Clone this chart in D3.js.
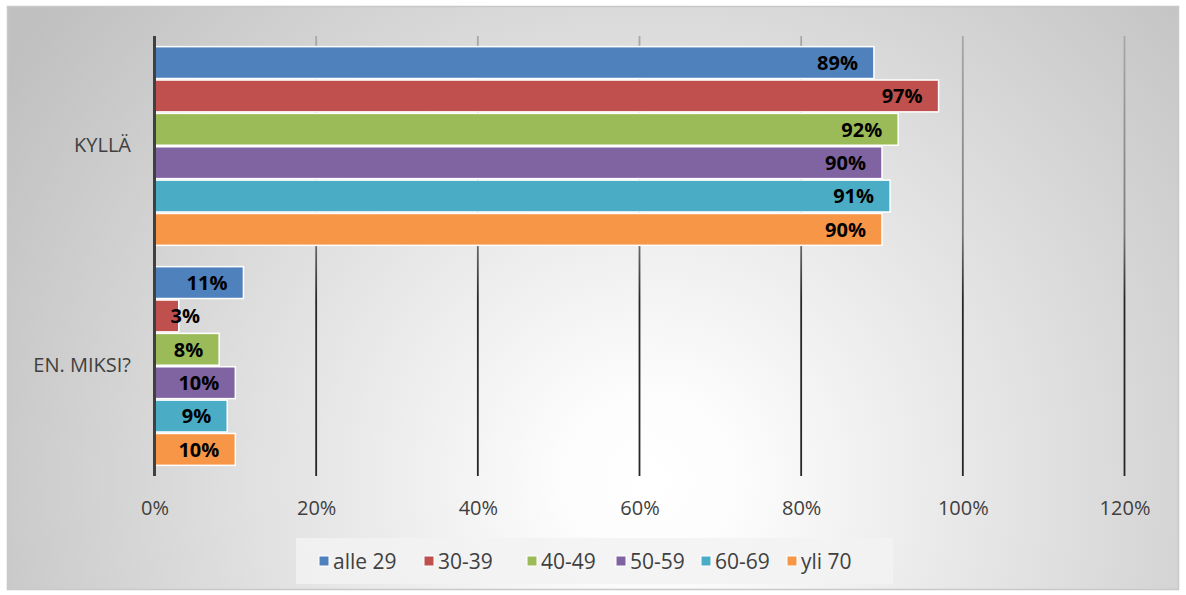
<!DOCTYPE html>
<html><head><meta charset="utf-8">
<script src="https://cdn.jsdelivr.net/npm/d3@7"></script>
<style>html,body{margin:0;padding:0;background:#fff;}svg{display:block;font-family:"Open Sans",sans-serif;}</style>
</head><body>
<script>
const categories = ["KYLLÄ", "EN. MIKSI?"];
const seriesNames = ["alle 29", "30-39", "40-49", "50-59", "60-69", "yli 70"];
const seriesColors = ["#4f81bd", "#c0504d", "#9bbb59", "#8064a2", "#4bacc6", "#f79646"];
const kyllaValues = [0.89, 0.97, 0.92, 0.90, 0.91, 0.90];
const enMiksiValues = [0.11, 0.03, 0.08, 0.10, 0.09, 0.10];
const tickValues = [0, 0.2, 0.4, 0.6, 0.8, 1.0, 1.2];
const tickLabels = ["0%", "20%", "40%", "60%", "80%", "100%", "120%"];
const valueLabels = [["89%","97%","92%","90%","91%","90%"],["11%","3%","8%","10%","9%","10%"]];

const W = 1186, H = 595;
const svg = d3.select("body").append("svg").attr("width", W).attr("height", H);
const defs = svg.append("defs");
const rg = defs.append("radialGradient").attr("id","bg").attr("gradientUnits","userSpaceOnUse")
  .attr("cx",650).attr("cy",480).attr("r",760);
rg.append("stop").attr("offset","0").attr("stop-color","#ffffff");
rg.append("stop").attr("offset","0.12").attr("stop-color","#fcfcfc");
rg.append("stop").attr("offset","1").attr("stop-color","#c0c0c0");
const gg = defs.append("linearGradient").attr("id","grid").attr("gradientUnits","userSpaceOnUse")
  .attr("x1",0).attr("y1",36).attr("x2",0).attr("y2",476);
gg.append("stop").attr("offset","0").attr("stop-color","#a8a8a8");
gg.append("stop").attr("offset","0.45").attr("stop-color","#787878");
gg.append("stop").attr("offset","0.6").attr("stop-color","#262626");
gg.append("stop").attr("offset","1").attr("stop-color","#262626");

svg.append("rect").attr("x",7.5).attr("y",6.5).attr("width",1171).attr("height",583)
  .attr("fill","url(#bg)").attr("stroke","#c8c8c8").attr("stroke-width",1.5);

const x = d3.scaleLinear().domain([0, 1.2]).range([154.5, 1124.5]);
const y0 = d3.scaleBand().domain(categories).range([36, 476]).paddingInner(0.09).paddingOuter(0.045);
const y1 = d3.scaleBand().domain(seriesNames).range([0, y0.bandwidth()]).padding(0);

// gridlines
svg.append("g").selectAll("line").data(tickValues.slice(1)).join("line")
  .attr("x1", d => x(d)).attr("x2", d => x(d)).attr("y1", 36).attr("y2", 476)
  .attr("stroke","url(#grid)").attr("stroke-width",1.8);

// axis labels
const xAxis = d3.axisBottom(x).tickValues(tickValues).tickFormat((d,i) => tickLabels[i]).tickSize(0).tickPadding(0);
const ax = svg.append("g").attr("transform","translate(0,508)").call(xAxis);
ax.select(".domain").remove();
ax.selectAll("text").attr("font-size",20).attr("fill","#404040").attr("font-family","Open Sans").attr("dy","0.36em");

const data = [kyllaValues, enMiksiValues];
const groups = svg.append("g").selectAll("g").data(categories).join("g")
  .attr("transform", d => `translate(0,${y0(d)})`);

groups.each(function(cat, ci) {
  const g = d3.select(this);
  const vals = data[ci];
  g.selectAll("rect").data(vals).join("rect")
    .attr("x", x(0)).attr("y", (d,i) => y1(seriesNames[i]) + 0.75)
    .attr("width", d => x(d) - x(0)).attr("height", y1.bandwidth() - 1.5)
    .attr("fill", (d,i) => seriesColors[i]).attr("stroke","#ffffff").attr("stroke-width",1.5);
  g.selectAll("text").data(vals).join("text")
    .attr("y", (d,i) => y1(seriesNames[i]) + y1.bandwidth()/2)
    .attr("dy","0.36em")
    .attr("font-size",20).attr("font-weight","bold").attr("fill","#000")
    .attr("text-anchor","end")
    .text((d,i) => valueLabels[ci][i])
    .each(function(d) {
      const w = this.getComputedTextLength();
      const xr = Math.max(x(d) - 16, x(0) + 16 + w);
      d3.select(this).attr("x", xr);
    });
});

// category labels
const yAxis = d3.axisLeft(y0).tickSize(0).tickPadding(0);
const ay = svg.append("g").attr("transform","translate(131,0)").call(yAxis);
ay.select(".domain").remove();
ay.selectAll("text").attr("font-size",20).attr("fill","#404040").attr("font-family","Open Sans");

// zero axis
svg.append("line").attr("x1",x(0)).attr("x2",x(0)).attr("y1",36).attr("y2",476)
  .attr("stroke","#404040").attr("stroke-width",3);

// legend
const lg = svg.append("g");
lg.append("rect").attr("x",296).attr("y",538).attr("width",597).attr("height",46).attr("fill","#f2f2f2").attr("opacity",0.85);
const lx = [319, 424, 527, 616, 701, 787];
seriesNames.forEach((s,i) => {
  lg.append("rect").attr("x",lx[i]).attr("y",556).attr("width",10).attr("height",10)
    .attr("fill",seriesColors[i]).attr("stroke","#fff").attr("stroke-width",1);
  lg.append("text").attr("x",lx[i]+14).attr("y",561).attr("dy","0.36em")
    .attr("font-size",21).attr("fill","#404040").text(s);
});
</script>
</body></html>
